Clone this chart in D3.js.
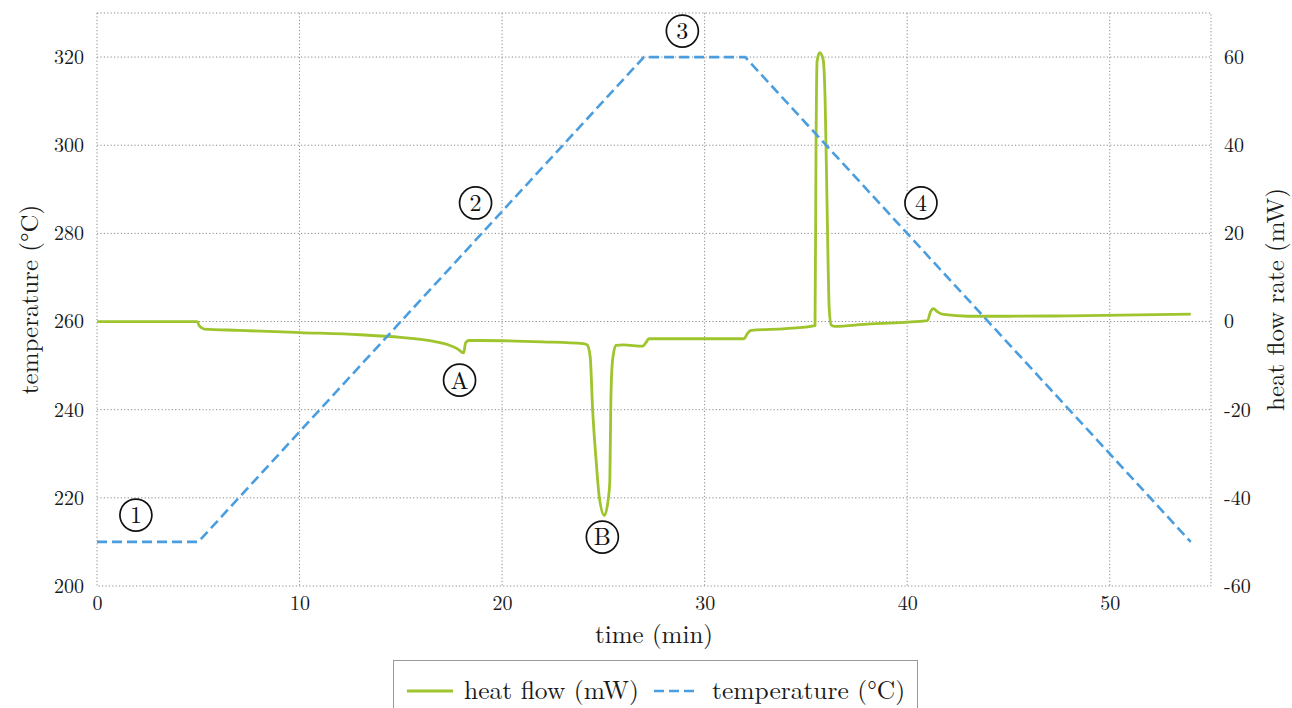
<!DOCTYPE html>
<html><head><meta charset="utf-8">
<script src="https://cdn.jsdelivr.net/npm/d3@7"></script>
<style>
html,body{margin:0;padding:0;background:#fff;}
svg{display:block;}
</style></head>
<body>
<svg id="chart" width="1292" height="708"></svg>
<script>
// ---- data ----
const tempTime = [0, 5, 27, 32, 54];
const tempValue = [210, 210, 320, 320, 210];

const heatTime = [0, 4.95, 5.05, 5.3, 7, 10, 13, 15, 16.5, 17.3, 17.8, 18.1, 18.2, 18.35, 19, 22, 24, 24.2,
  24.35, 24.47, 24.65, 24.8, 25.05, 25.25, 25.32, 25.37, 25.45, 25.62, 26, 26.94, 27.1, 27.25, 31.95, 32.1, 32.3,
  34, 35.45, 35.5, 35.55, 35.68, 35.85, 35.95, 36.05, 36.15, 36.25, 36.4, 38, 41.0, 41.15, 41.3, 41.5, 41.8,
  43, 45, 48, 54];
const heatValue = [0, 0, -1.0, -1.7, -2.0, -2.5, -3.0, -3.6, -4.4, -5.2, -6.2, -7.1, -4.8, -4.3, -4.3, -4.6, -5.0, -5.3,
  -8, -20, -32, -39.9, -44.0, -40, -36, -18, -9, -5.4, -5.3, -5.6, -4.8, -3.9, -3.9, -2.8, -2.0,
  -1.6, -0.9, 40, 59, 61, 59.5, 50, 25, 3, -0.8, -1.1, -0.6, 0.2, 2.2, 2.9, 2.2, 1.6,
  1.2, 1.2, 1.3, 1.7];

const xTicks = [0, 10, 20, 30, 40, 50];
const yLeftTicks = [200, 220, 240, 260, 280, 300, 320];
const yRightTicks = [-60, -40, -20, 0, 20, 40, 60];

const markerLabels = ["1", "2", "3", "4", "A", "B"];
const markerTime = [1.92, 18.69, 28.9, 40.68, 17.9, 24.95];
const markerTemp = [216.1, 286.9, 325.9, 286.9, 246.7, 211.1];

// ---- layout ----
const FONT = '"Latin Modern Roman", "Liberation Serif", serif';
const svg = d3.select("#chart");
const L = 97, R = 1211, T = 13, B = 586;
const x = d3.scaleLinear().domain([0, 55]).range([L, R]);
const yL = d3.scaleLinear().domain([200, 330]).range([B, T]);
const yR = d3.scaleLinear().domain([-60, 70]).range([B, T]);

const green = "#9ec42e", blue = "#4a9edf", gridC = "#8a8a8a", ink = "#1a1a1a";

// grid
const g = svg.append("g");
g.selectAll(".vg").data(xTicks.filter(d => d > 0)).join("line")
  .attr("x1", d => x(d)).attr("x2", d => x(d)).attr("y1", T).attr("y2", B)
  .attr("stroke", gridC).attr("stroke-width", 1).attr("stroke-dasharray", "1.2,2.2");
g.selectAll(".hg").data(yLeftTicks.filter(d => d > 200)).join("line")
  .attr("x1", L).attr("x2", R).attr("y1", d => yL(d)).attr("y2", d => yL(d))
  .attr("stroke", gridC).attr("stroke-width", 1).attr("stroke-dasharray", "1.2,2.2");
g.append("rect").attr("x", L).attr("y", T).attr("width", R - L).attr("height", B - T)
  .attr("fill", "none").attr("stroke", gridC).attr("stroke-width", 1).attr("stroke-dasharray", "1.2,2.2");

// axes (labels only)
const plain = d => String(d);
const ax = d3.axisBottom(x).tickValues(xTicks).tickSize(0).tickPadding(10).tickFormat(plain);
const axG = svg.append("g").attr("transform", `translate(0,${B})`).call(ax);
const ayl = d3.axisLeft(yL).tickValues(yLeftTicks).tickSize(0).tickPadding(13).tickFormat(plain);
const aylG = svg.append("g").attr("transform", `translate(${L},0)`).call(ayl);
const ayr = d3.axisRight(yR).tickValues(yRightTicks).tickSize(0).tickPadding(13).tickFormat(plain);
const ayrG = svg.append("g").attr("transform", `translate(${R},0)`).call(ayr);
[axG, aylG, ayrG].forEach(a => {
  a.select(".domain").remove();
  a.attr("font-family", null).attr("font-size", null);
  a.selectAll("text").style("font-family", FONT).style("font-size", "20px").attr("fill", ink);
});

// axis titles
const titles = svg.append("g").style("font-family", FONT).attr("fill", ink);
titles.append("text").attr("x", (L + R) / 2).attr("y", 643).attr("text-anchor", "middle")
  .style("font-size", "25px").text("time (min)");
titles.append("text").attr("transform", `translate(38,${(T + B) / 2}) rotate(-90)`).attr("text-anchor", "middle")
  .style("font-size", "25px").text("temperature (°C)");
titles.append("text").attr("transform", `translate(1284,${(T + B) / 2}) rotate(-90)`).attr("text-anchor", "middle")
  .style("font-size", "25px").text("heat flow rate (mW)");

// lines
const tempData = tempTime.map((t, i) => [t, tempValue[i]]);
const heatData = heatTime.map((t, i) => [t, heatValue[i]]);
svg.append("path").datum(heatData)
  .attr("d", d3.line().x(d => x(d[0])).y(d => yR(d[1])).curve(d3.curveMonotoneX))
  .attr("fill", "none").attr("stroke", green).attr("stroke-width", 2.8).attr("stroke-linejoin", "round");
svg.append("path").datum(tempData)
  .attr("d", d3.line().x(d => x(d[0])).y(d => yL(d[1])))
  .attr("fill", "none").attr("stroke", blue).attr("stroke-width", 2.6).attr("stroke-dasharray", "10,5");

// circled markers
const mk = svg.append("g").selectAll("g").data(markerLabels).join("g")
  .attr("transform", (d, i) => `translate(${x(markerTime[i])},${yL(markerTemp[i])})`);
mk.append("circle").attr("r", 16).attr("fill", "#fff").attr("stroke", "#111").attr("stroke-width", 1.7);
mk.append("text").attr("text-anchor", "middle").attr("dy", "0.35em").style("font-family", FONT)
  .style("font-size", "24px").attr("fill", "#111").text(d => d);

// legend
const lg = svg.append("g").style("font-family", FONT).attr("fill", ink);
lg.append("rect").attr("x", 393.5).attr("y", 660.5).attr("width", 524).attr("height", 60)
  .attr("fill", "#fff").attr("stroke", "#999").attr("stroke-width", 1);
lg.append("line").attr("x1", 407).attr("x2", 453).attr("y1", 691).attr("y2", 691)
  .attr("stroke", green).attr("stroke-width", 2.8);
lg.append("text").attr("x", 464).attr("y", 699).style("font-size", "25.5px").text("heat flow (mW)");
lg.append("line").attr("x1", 654).attr("x2", 698).attr("y1", 691).attr("y2", 691)
  .attr("stroke", blue).attr("stroke-width", 2.6).attr("stroke-dasharray", "10,5");
lg.append("text").attr("x", 712).attr("y", 699).style("font-size", "25.5px").text("temperature (°C)");
</script>
</body></html>
